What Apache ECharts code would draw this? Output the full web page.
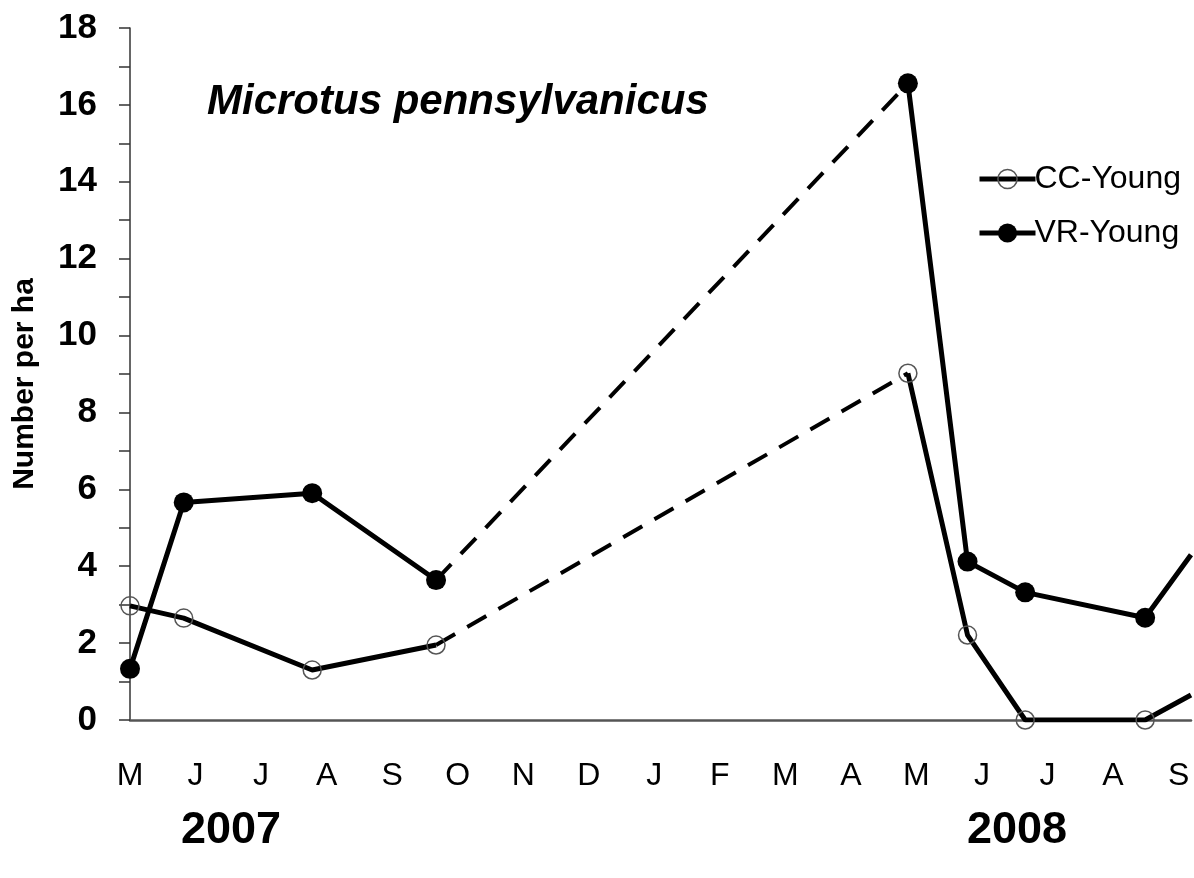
<!DOCTYPE html>
<html>
<head>
<meta charset="utf-8">
<script src="https://cdn.jsdelivr.net/npm/echarts@6/dist/echarts.min.js"></script>
<style>
html,body{margin:0;padding:0;background:#fff;}
#chart{width:1194px;height:878px;}
</style>
</head>
<body>
<div id="chart"></div>
<script>
// Month tick labels (May 2007 .. Sep 2008)
var monthLabels = ['M','J','J','A','S','O','N','D','J','F','M','A','M','J','J','A','S'];
// Sampling dates, in months after 1 May 2007
var dates2007 = [0, 0.82, 2.78, 4.67];
var dates2008 = [11.87, 12.78, 13.66, 15.49];
var edgeDate = 16.19; // right edge of the plot (line continues off the picture)
// CC-Young (number per ha)
var cc2007 = [2.97, 2.65, 1.30, 1.95];
var cc2008 = [9.02, 2.21, 0, 0];
var ccEdge = 0.65;
// VR-Young (number per ha)
var vr2007 = [1.33, 5.66, 5.90, 3.64];
var vr2008 = [16.56, 4.12, 3.32, 2.66];
var vrEdge = 4.3;

function pairs(xs, ys){ return xs.map(function(x,i){ return [x, ys[i]]; }); }

var FONT = 'Liberation Sans, Arial, sans-serif';
var ccSymbolStyle = {color:'rgba(0,0,0,0)', borderColor:'#555', borderWidth:1.5};
var vrSymbolStyle = {color:'#000', borderColor:'#000', borderWidth:0};

var ccA = pairs(dates2007, cc2007);
var ccB = pairs(dates2008, cc2008).concat([{value:[edgeDate, ccEdge], symbol:'none'}]);
var vrA = pairs(dates2007, vr2007);
var vrB = pairs(dates2008, vr2008).concat([{value:[edgeDate, vrEdge], symbol:'none'}]);
var ccGap = [ccA[ccA.length-1], [dates2008[0], cc2008[0]]];
var vrGap = [vrA[vrA.length-1], [dates2008[0], vr2008[0]]];

function solid(name, data, sym){
  return {name:name, type:'line', data:data, symbol:'circle', symbolSize: name==='VR-Young'?20:18,
    lineStyle:{color:'#000', width:5}, itemStyle:sym, emphasis:{disabled:true}, z: name==='VR-Young'?3:2};
}
function dashed(name, data){
  return {name:name, type:'line', data:data, symbol:'none',
    lineStyle:{color:'#000', width:4, type:[22,14]}, emphasis:{disabled:true}, z:1};
}

var chart = echarts.init(document.getElementById('chart'));
chart.setOption({
  backgroundColor:'#fff',
  animation:false,
  title:{text:'Microtus pennsylvanicus', left:202, top:76,
    textStyle:{fontFamily:FONT, fontSize:42, fontWeight:'bold', fontStyle:'italic', color:'#000'}},
  legend:{
    data:[
      {name:'CC-Young', itemStyle:{color:'rgba(0,0,0,0)', borderColor:'#555', borderWidth:1.5}},
      {name:'VR-Young', itemStyle:{color:'#000', borderWidth:0}}
    ],
    orient:'vertical', left:972, top:158,
    itemWidth:56, itemHeight:24, itemGap:22,
    lineStyle:{width:5, color:'#000'},
    textStyle:{fontFamily:FONT, fontSize:32, color:'#000', padding:[0,0,0,-6]}},
  grid:{left:130, right:0, top:28, bottom:158, containLabel:false},
  xAxis:{type:'value', min:0, max:edgeDate, interval:1,
    axisLine:{lineStyle:{color:'#555', width:2.5}},
    axisTick:{show:false}, splitLine:{show:false},
    axisLabel:{margin:40, fontFamily:FONT, fontSize:32, color:'#000',
      formatter:function(v){ var i=Math.round(v); return Math.abs(v-i)<1e-6 && monthLabels[i]!==undefined ? monthLabels[i] : ''; }}},
  yAxis:{type:'value', min:0, max:18, interval:1,
    name:'Number per ha', nameLocation:'middle', nameGap:90,
    nameTextStyle:{fontFamily:FONT, fontSize:30, fontWeight:'bold', color:'#000', padding:[0,20,0,0]},
    axisLine:{show:true, lineStyle:{color:'#333', width:1.5}},
    axisTick:{show:true, inside:false, length:11, lineStyle:{color:'#333', width:1.5}},
    splitLine:{show:false},
    axisLabel:{margin:33, fontFamily:FONT, fontSize:35, fontWeight:'bold', color:'#000',
      formatter:function(v){ return (Math.round(v)%2===0) ? String(Math.round(v)) : ''; }}},
  graphic:[
    {type:'text', left:181, top:808, style:{text:'2007', font:'bold 45px '+FONT, fill:'#000'}},
    {type:'text', left:967, top:808, style:{text:'2008', font:'bold 45px '+FONT, fill:'#000'}}
  ],
  series:[
    dashed('ccgap', ccGap),
    dashed('vrgap', vrGap),
    solid('CC-Young', ccA, ccSymbolStyle),
    solid('CC-Young', ccB, ccSymbolStyle),
    solid('VR-Young', vrA, vrSymbolStyle),
    solid('VR-Young', vrB, vrSymbolStyle)
  ]
});
</script>
</body>
</html>
